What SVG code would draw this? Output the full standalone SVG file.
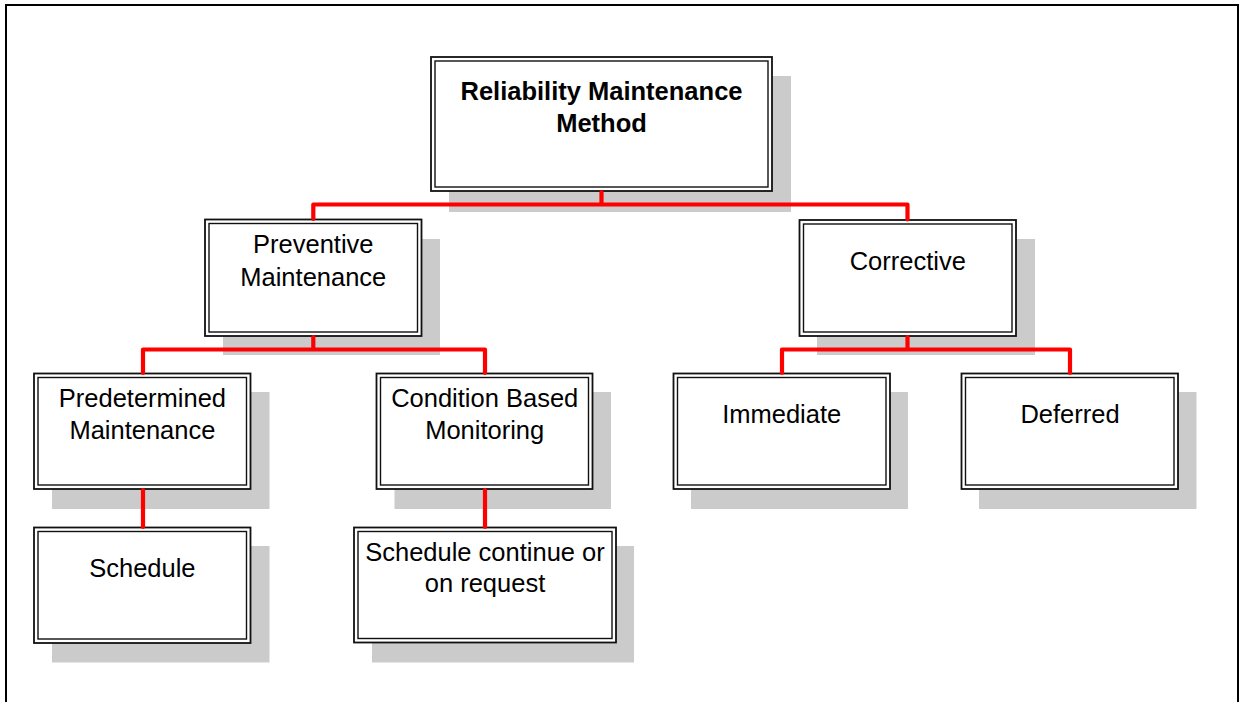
<svg xmlns="http://www.w3.org/2000/svg" width="1245" height="702" viewBox="0 0 1245 702">
<style>
.shadow{fill:#cbcbcb;stroke:none}
.outer{fill:#ffffff;stroke:#111111;stroke-width:1.8}
.inner{fill:none;stroke:#111111;stroke-width:1.4}
.t{font-family:"Liberation Sans",Arial,sans-serif;font-size:25.5px;fill:#000000;text-anchor:middle}
.b{font-weight:bold}
.con{fill:none;stroke:#ff0000;stroke-width:4.2;stroke-linejoin:round;stroke-linecap:round}
</style>
<rect x="0" y="0" width="1245" height="702" fill="#ffffff"/>
<rect x="6" y="5" width="1232" height="720" fill="none" stroke="#000000" stroke-width="2"/>

<g id="node-reliability">
<rect class="shadow" x="449" y="76" width="342" height="136"/>
<rect class="outer" x="431" y="57" width="341" height="134"/>
<rect class="inner" x="435" y="61" width="333" height="126"/>
<text class="t b" x="601.5" y="100">Reliability Maintenance</text>
<text class="t b" x="601.5" y="132">Method</text>
</g>

<g id="node-preventive">
<rect class="shadow" x="223" y="239" width="217" height="116"/>
<rect class="outer" x="205" y="219.5" width="216.5" height="116.5"/>
<rect class="inner" x="209" y="223.5" width="208.5" height="108.5"/>
<text class="t" x="313.3" y="253">Preventive</text>
<text class="t" x="313.3" y="286">Maintenance</text>
</g>

<g id="node-corrective">
<rect class="shadow" x="817" y="239" width="218" height="116"/>
<rect class="outer" x="799.5" y="220" width="216.5" height="116"/>
<rect class="inner" x="803.5" y="224" width="208.5" height="108"/>
<text class="t" x="907.8" y="270">Corrective</text>
</g>

<g id="node-predetermined">
<rect class="shadow" x="52" y="392" width="217.5" height="117"/>
<rect class="outer" x="34" y="373.5" width="216.5" height="115.5"/>
<rect class="inner" x="38" y="377.5" width="208.5" height="107.5"/>
<text class="t" x="142.4" y="407">Predetermined</text>
<text class="t" x="142.4" y="439">Maintenance</text>
</g>

<g id="node-condition">
<rect class="shadow" x="394.5" y="392" width="216.5" height="117"/>
<rect class="outer" x="376.5" y="373.5" width="216" height="115.5"/>
<rect class="inner" x="380.5" y="377.5" width="208" height="107.5"/>
<text class="t" x="484.7" y="407">Condition Based</text>
<text class="t" x="484.7" y="439">Monitoring</text>
</g>

<g id="node-immediate">
<rect class="shadow" x="691" y="392" width="217" height="117"/>
<rect class="outer" x="673.5" y="373.5" width="216.5" height="115.5"/>
<rect class="inner" x="677.5" y="377.5" width="208.5" height="107.5"/>
<text class="t" x="781.7" y="423">Immediate</text>
</g>

<g id="node-deferred">
<rect class="shadow" x="979" y="392" width="217.5" height="117"/>
<rect class="outer" x="961.5" y="373.5" width="216.5" height="115.5"/>
<rect class="inner" x="965.5" y="377.5" width="208.5" height="107.5"/>
<text class="t" x="1070" y="423">Deferred</text>
</g>

<g id="node-schedule">
<rect class="shadow" x="52" y="546" width="217.5" height="116.5"/>
<rect class="outer" x="34" y="527.5" width="216.5" height="115.5"/>
<rect class="inner" x="38" y="531.5" width="208.5" height="107.5"/>
<text class="t" x="142.4" y="577">Schedule</text>
</g>

<g id="node-schedule-continue">
<rect class="shadow" x="372" y="546" width="262" height="116.5"/>
<rect class="outer" x="354" y="527.5" width="262" height="115"/>
<rect class="inner" x="358" y="531.5" width="254" height="107"/>
<text class="t" x="485" y="561">Schedule continue or</text>
<text class="t" x="485" y="592">on request</text>
</g>

<g id="connectors">
<path class="con" d="M601.5,192 V204.5 M313.3,219 V204.5 H907.5 V219.5"/>
<path class="con" d="M313.3,337 V349.5 M143,373 V349.5 H485 V373"/>
<path class="con" d="M907.5,337 V349.5 M782,373 V349.5 H1070 V373"/>
<path class="con" d="M143,490 V527"/>
<path class="con" d="M485,490 V527"/>
</g>
</svg>
